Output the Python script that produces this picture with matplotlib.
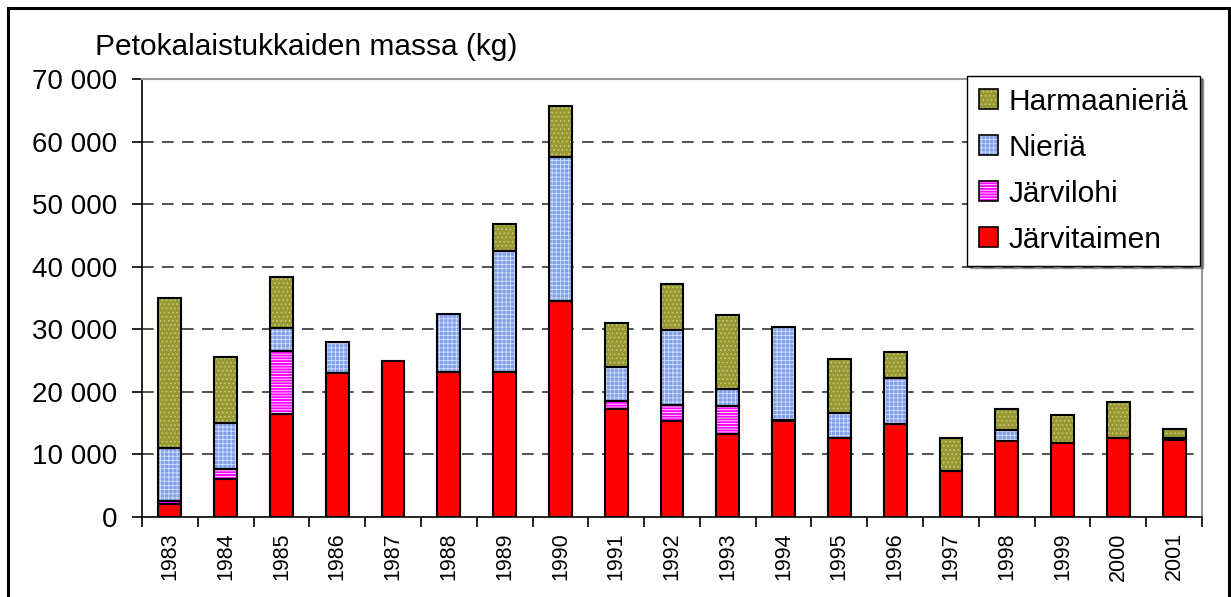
import matplotlib
matplotlib.use("Agg")
import matplotlib.pyplot as plt
import numpy as np
from matplotlib.patches import Patch, Rectangle
from matplotlib.ticker import FuncFormatter, FixedLocator
from matplotlib.legend_handler import HandlerTuple

plt.rcParams['font.family'] = ['Liberation Sans', 'DejaVu Sans']

years = ['1983', '1984', '1985', '1986', '1987', '1988', '1989', '1990', '1991', '1992',
         '1993', '1994', '1995', '1996', '1997', '1998', '1999', '2000', '2001']
jarvitaimen = [2000, 6000, 16500, 23000, 25000, 23250, 23250, 34500, 17300, 15300,
               13200, 15300, 12700, 14800, 7300, 12200, 11900, 12700, 12300]
jarvilohi = [500, 1600, 10100, 0, 0, 0, 0, 0, 1300, 2600,
             4600, 200, 0, 0, 0, 0, 0, 0, 0]
nieria = [8500, 7400, 3600, 4900, 0, 9150, 19200, 23100, 5400, 12000,
          2600, 14870, 3850, 7470, 0, 1750, 0, 0, 300]
harmaanieria = [24000, 10600, 8200, 0, 0, 0, 4400, 8150, 6950, 7400,
                11840, 0, 8760, 4050, 5400, 3350, 4450, 5700, 1400]

series = [
    ('Järvitaimen', jarvitaimen, '#ff0000', None, 'none'),
    ('Järvilohi', jarvilohi, '#ff00ff', '------', 'white'),
    ('Nieriä', nieria, '#7f9fea', '++++', '#d4e0ff'),
    ('Harmaanieriä', harmaanieria, '#999933', '....', '#d0d088'),
]

W, H = 1231, 597
fig = plt.figure(figsize=(W / 100, H / 100), dpi=100)
ax = fig.add_axes([142 / W, 1 - 517 / H, (1202 - 142) / W, (517 - 79) / H])

plt.rcParams['hatch.linewidth'] = 0.6
x = np.arange(len(years))
width = 0.41
bottom = np.zeros(len(years))
handles = []
for name, vals, color, hatch, hcol in series:
    vals = np.array(vals, dtype=float)
    ax.bar(x, vals, width, bottom=bottom, color=color, linewidth=0, zorder=3)
    if hatch:
        ax.bar(x, vals, width, bottom=bottom, facecolor='none', edgecolor=hcol,
               hatch=hatch, linewidth=0, zorder=3.5)
    mask = vals > 0
    ax.bar(x[mask], vals[mask], width, bottom=bottom[mask], facecolor='none',
           edgecolor='black', linewidth=1.5, zorder=4)
    bottom += vals
    ph = [Patch(facecolor=color, linewidth=0)]
    if hatch:
        ph.append(Patch(facecolor='none', edgecolor=hcol, hatch=hatch, linewidth=0))
    ph.append(Patch(facecolor='none', edgecolor='black', linewidth=1.2))
    handles.append((tuple(ph), name))

ax.set_xlim(-0.5, len(years) - 0.5)
ax.set_ylim(0, 70000)
ax.yaxis.set_major_locator(FixedLocator(np.arange(0, 70001, 10000)))
ax.yaxis.set_major_formatter(FuncFormatter(lambda v, p: f"{int(v):,}".replace(',', ' ')))
for yv in range(10000, 70000, 10000):
    ax.axhline(yv, color='#333333', linewidth=1.2, dashes=(7, 5), zorder=1)

ax.set_xticks(x)
ax.set_xticklabels(years, rotation=90, fontsize=15.5, va='top', ha='center')
ax.tick_params(axis='x', which='major', length=0, pad=11)
ax.set_xticks(np.arange(-0.5, len(years), 1), minor=True)
ax.tick_params(axis='x', which='minor', length=7, width=1.2, direction='out')
ax.tick_params(axis='y', length=7, width=1.2, direction='out', labelsize=20, pad=11)

for s in ['left', 'bottom']:
    ax.spines[s].set_color('black')
    ax.spines[s].set_linewidth(1.2)
for s in ['top', 'right']:
    ax.spines[s].set_color('#999999')
    ax.spines[s].set_linewidth(1.5)

fig.text(95 / W, 1 - 47 / H, 'Petokalaistukkaiden massa (kg)', fontsize=21.5,
         va='center', ha='left')

leg = fig.legend([h for h, n in handles[::-1]], [n for h, n in handles[::-1]],
                 handler_map={tuple: HandlerTuple(ndivide=1)},
                 loc='upper right', bbox_to_anchor=(1200 / W, 1 - 76 / H),
                 bbox_transform=fig.transFigure, borderaxespad=0,
                 fontsize=21.5, frameon=True, fancybox=False, shadow=True,
                 handlelength=0.65, handleheight=0.65, handletextpad=0.35,
                 labelspacing=0.6, borderpad=0.4)
leg.get_frame().set_edgecolor('black')
leg.get_frame().set_linewidth(1.0)
leg.set_zorder(10)

fig.patches.append(Rectangle((8 / W, -0.02), (1229 - 8) / W, 1.02 - 8 / H,
                             transform=fig.transFigure, fill=False,
                             edgecolor='black', linewidth=2.2))

fig.savefig('out.png', dpi=100)
